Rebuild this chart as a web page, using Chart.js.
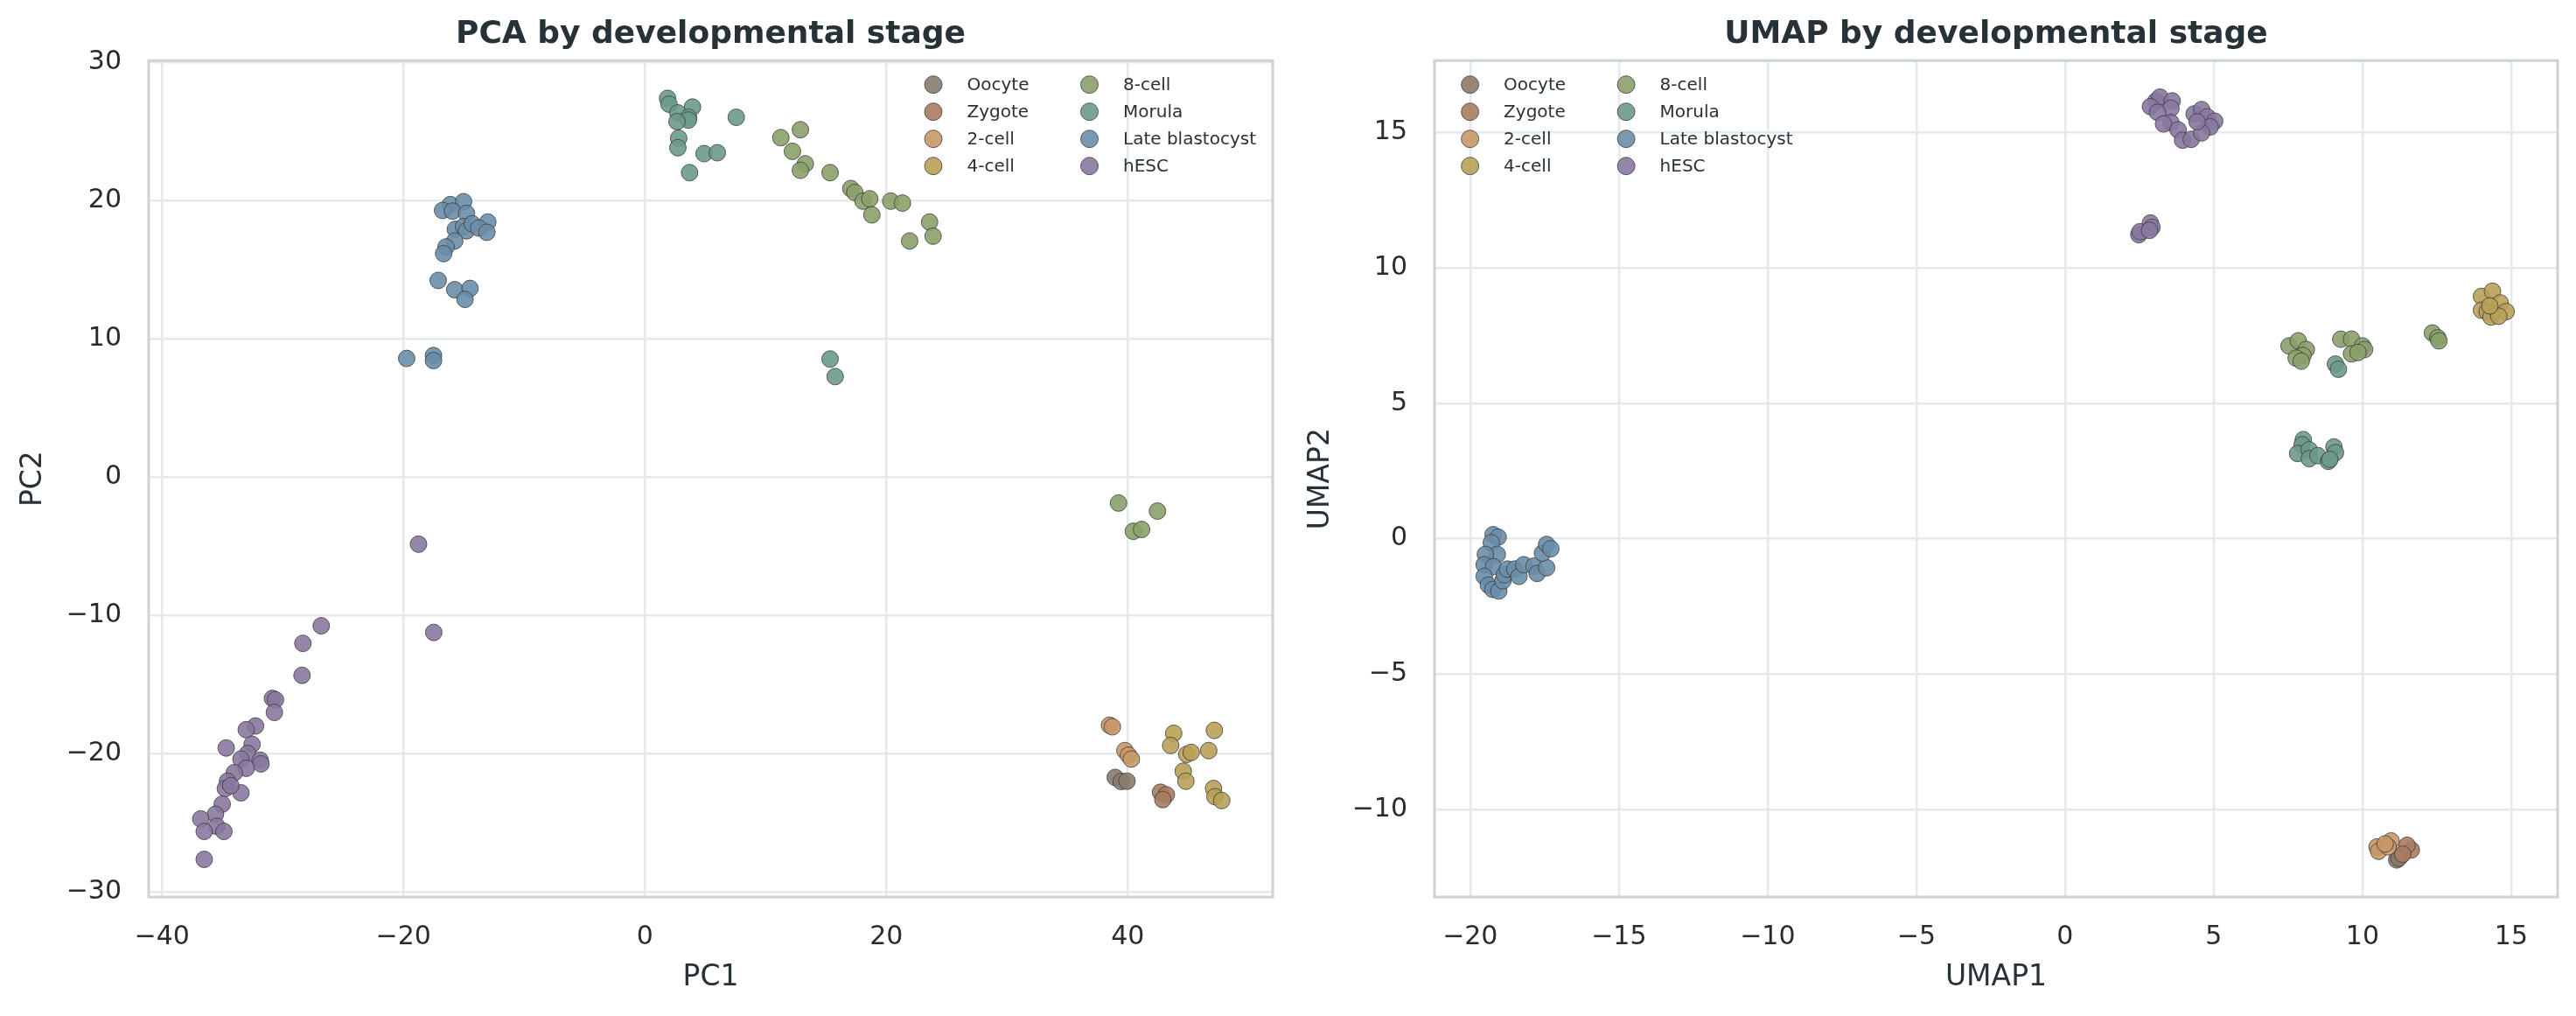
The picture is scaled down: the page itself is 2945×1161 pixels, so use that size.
<!DOCTYPE html>
<html>
<head>
<meta charset="utf-8">
<script src="https://cdn.jsdelivr.net/npm/chart.js@4.4.0/dist/chart.umd.min.js"></script>
<style>
  html, body { margin: 0; padding: 0; background: #fff; overflow: hidden; }
  #pca { position: absolute; left: 0; top: 0; }
  #umap { position: absolute; left: 1472px; top: 0; }
</style>
</head>
<body>
<canvas id="pca" width="1472" height="1161"></canvas>
<canvas id="umap" width="1473" height="1161"></canvas>
<script>
// stage names, in plotting order
var stages = ['Oocyte', 'Zygote', '2-cell', '4-cell', '8-cell', 'Morula', 'Late blastocyst', 'hESC'];
var stageColors = ['#8a7b6c', '#a87c62', '#c89868', '#b8a157', '#8ba06a', '#6b9a8a', '#6a8da8', '#8a78a0'];

// PCA coordinates [PC1, PC2]
var pcaOocyte = [[38.96, -21.71], [39.45, -22.0], [39.93, -21.98]];
var pcaZygote = [[42.71, -22.78], [43.19, -22.96], [42.9, -23.31]];
var pca2cell = [[38.48, -17.94], [38.72, -18.05], [39.76, -19.77], [40.05, -20.1], [40.29, -20.38]];
var pca4cell = [[43.8, -18.52], [43.55, -19.4], [44.88, -20.04], [45.25, -19.9], [46.7, -19.77], [47.17, -18.31],
                [44.59, -21.26], [44.81, -21.98], [47.1, -22.51], [47.22, -23.1], [47.78, -23.38]];
var pca8cell = [[11.26, 24.53], [12.88, 25.1], [12.22, 23.54], [13.29, 22.64], [12.88, 22.17], [15.34, 22.0],
                [17.06, 20.85], [17.39, 20.57], [18.07, 19.94], [18.62, 20.11], [18.8, 18.95], [20.36, 19.94],
                [21.33, 19.8], [23.58, 18.43], [21.93, 17.06], [23.87, 17.41],
                [39.23, -1.88], [42.46, -2.46], [40.46, -3.92], [41.14, -3.79]];
var pcaMorula = [[1.88, 27.37], [2.0, 26.95], [3.94, 26.74], [2.73, 26.32], [3.62, 26.0], [3.6, 25.8], [2.66, 25.69],
                 [2.8, 24.49], [2.73, 23.8], [7.57, 26.0], [4.9, 23.37], [6.0, 23.44], [3.7, 22.0],
                 [15.34, 8.53], [15.76, 7.26]];
var pcaLateBlast = [[-16.11, 19.69], [-15.02, 19.9], [-16.76, 19.27], [-15.94, 19.22], [-14.78, 19.06], [-15.7, 17.9],
                    [-15.02, 18.1], [-14.78, 17.8], [-14.3, 18.3], [-13.01, 18.43], [-13.77, 18.0], [-13.09, 17.69],
                    [-15.75, 17.06], [-16.47, 16.63], [-16.67, 16.15], [-17.12, 14.21], [-15.75, 13.54],
                    [-14.49, 13.63], [-14.9, 12.84], [-19.73, 8.57], [-17.51, 8.78], [-17.51, 8.42]];
var pcaHesc = [[-18.75, -4.85], [-17.49, -11.23], [-26.81, -10.75], [-28.33, -12.02], [-28.4, -14.33],
               [-30.85, -16.0], [-30.6, -16.1], [-30.69, -17.01], [-32.25, -17.99], [-33.02, -18.26],
               [-32.54, -19.32], [-34.68, -19.58], [-32.9, -19.98], [-33.46, -20.38], [-31.87, -20.46],
               [-31.8, -20.73], [-33.02, -21.05], [-34.01, -21.37], [-34.57, -21.98], [-34.75, -22.51],
               [-33.46, -22.82], [-35.01, -23.64], [-35.57, -24.37], [-36.79, -24.71], [-35.46, -25.24],
               [-36.5, -25.61], [-34.87, -25.61], [-36.5, -27.63], [-34.3, -22.3]];

// UMAP coordinates [UMAP1, UMAP2]
var umapOocyte = [[11.15, -11.86], [11.3, -11.7], [11.22, -11.8]];
var umapZygote = [[11.64, -11.49], [11.5, -11.32], [11.35, -11.65]];
var umap2cell = [[10.49, -11.38], [10.54, -11.54], [10.96, -11.16], [10.86, -11.38], [10.76, -11.27]];
var umap4cell = [[14.0, 8.95], [14.37, 9.14], [14.63, 8.71], [14.0, 8.44], [14.19, 8.39], [14.83, 8.39],
                 [14.32, 8.19], [14.58, 8.22], [14.28, 8.6]];
var umap8cell = [[7.53, 7.12], [7.84, 7.31], [8.11, 6.99], [8.0, 6.77], [7.77, 6.67], [7.94, 6.56],
                 [9.27, 7.37], [9.63, 7.37], [10.0, 7.12], [10.07, 6.99], [9.63, 6.83], [9.85, 6.88],
                 [12.35, 7.6], [12.53, 7.42], [12.57, 7.31]];
var umapMorula = [[9.09, 6.45], [9.19, 6.26], [8.01, 3.66], [7.97, 3.47], [7.82, 3.15], [8.21, 3.28],
                  [8.21, 2.96], [8.5, 3.07], [9.04, 3.39], [9.09, 3.18], [8.85, 2.86], [8.9, 2.93]];
var umapLateBlast = [[-19.23, 0.15], [-19.06, 0.06], [-19.29, -0.15], [-19.09, -0.58], [-19.49, -0.58],
                     [-19.53, -0.96], [-19.22, -1.03], [-19.53, -1.39], [-19.39, -1.71], [-19.24, -1.87],
                     [-19.04, -1.93], [-18.9, -1.55], [-18.85, -1.33], [-18.75, -1.12], [-18.5, -1.12],
                     [-18.36, -1.39], [-18.2, -0.96], [-17.86, -1.01], [-17.75, -1.28], [-17.43, -1.07],
                     [-17.57, -0.53], [-17.43, -0.21], [-17.29, -0.37]];
var umapHesc = [[3.06, 16.17], [3.19, 16.31], [2.87, 15.96], [3.6, 16.17], [3.56, 15.9], [3.11, 15.75],
                [3.56, 15.37], [3.31, 15.32], [3.8, 15.1], [3.95, 14.72], [4.24, 14.75], [4.34, 15.69],
                [4.59, 15.85], [4.78, 15.58], [5.03, 15.42], [4.88, 15.21], [4.59, 14.99], [4.44, 15.4],
                [2.48, 11.23], [2.52, 11.34], [2.87, 11.66], [2.92, 11.5], [2.84, 11.39]];

// axis limits and tick steps
var pcaXRange = [-41.1, 52.0], pcaYRange = [-30.35, 30.1];
var umapXRange = [-21.2, 16.56], umapYRange = [-13.23, 17.66];
var pcaXStep = 20, pcaYStep = 10, umapXStep = 5, umapYStep = 5;

var pcaSets = [pcaOocyte, pcaZygote, pca2cell, pca4cell, pca8cell, pcaMorula, pcaLateBlast, pcaHesc];
var umapSets = [umapOocyte, umapZygote, umap2cell, umap4cell, umap8cell, umapMorula, umapLateBlast, umapHesc];

function withAlpha(hex, a) {
  var n = parseInt(hex.slice(1), 16);
  return 'rgba(' + (n >> 16) + ',' + ((n >> 8) & 255) + ',' + (n & 255) + ',' + a + ')';
}

function minusTick(v) {
  return v < 0 ? '\u2212' + Math.abs(v) : '' + v;
}

// box round the plot, like matplotlib spines
var framePlugin = {
  id: 'frame',
  beforeDatasetsDraw: function (chart) {
    var a = chart.chartArea, c = chart.ctx;
    c.save();
    c.strokeStyle = '#cbd2d8';
    c.lineWidth = 3;
    c.strokeRect(a.left, a.top, a.right - a.left, a.bottom - a.top);
    c.restore();
  }
};

// two-column legend inside the plot
var stageLegend = {
  id: 'stageLegend',
  afterDatasetsDraw: function (chart, args, opts) {
    var a = chart.chartArea, c = chart.ctx;
    var colStep = 178.5, textGap = 38.5, rowStep = 31, r = 10;
    c.save();
    c.font = '20px "DejaVu Sans"';
    var w2 = 0;
    for (var k = 4; k < 8; k++) w2 = Math.max(w2, c.measureText(stages[k]).width);
    var x0 = opts.side === 'right' ? a.right - 19 - (colStep + textGap + w2) : a.left + 40.6;
    var y0 = a.top + 27.5;
    c.textBaseline = 'middle';
    c.textAlign = 'left';
    for (var i = 0; i < stages.length; i++) {
      var col = Math.floor(i / 4), row = i % 4;
      var cx = x0 + col * colStep, cy = y0 + row * rowStep;
      c.beginPath();
      c.arc(cx, cy, r, 0, Math.PI * 2);
      c.fillStyle = withAlpha(stageColors[i], 0.9);
      c.fill();
      c.lineWidth = 1;
      c.strokeStyle = 'rgba(60,60,60,0.8)';
      c.stroke();
      c.fillStyle = '#263238';
      c.fillText(stages[i], cx + textGap, cy + 1);
    }
    c.restore();
  }
};

function makeChart(id, title, sets, xr, yr, xs, ys, xLabel, yLabel, legendSide, padRight) {
  var datasets = sets.map(function (pts, i) {
    return {
      label: stages[i],
      data: pts.map(function (p) { return { x: p[0], y: p[1] }; }),
      backgroundColor: withAlpha(stageColors[i], 0.9),
      borderColor: 'rgba(60,60,60,0.8)',
      borderWidth: 1,
      pointRadius: 9.5,
      pointHoverRadius: 9.5,
      order: sets.length - i
    };
  });
  var tickFont = { family: 'DejaVu Sans', size: 30 };
  var labelFont = { family: 'DejaVu Sans', size: 33 };
  return new Chart(document.getElementById(id).getContext('2d'), {
    type: 'scatter',
    data: { datasets: datasets },
    plugins: [framePlugin, stageLegend],
    options: {
      responsive: false,
      animation: false,
      events: [],
      layout: { padding: { left: 0, right: padRight, top: 0, bottom: 0 } },
      scales: {
        x: {
          type: 'linear',
          min: xr[0], max: xr[1],
          afterFit: function (s) { s.height = 136; },
          border: { display: false },
          grid: { color: '#e6e9ec', lineWidth: 2.5, drawTicks: false },
          ticks: { stepSize: xs, includeBounds: false, padding: 28, color: '#2b2b2b', font: tickFont, maxRotation: 0, callback: minusTick },
          title: { display: true, text: xLabel, color: '#263238', font: labelFont, padding: { top: 0, bottom: 24 } }
        },
        y: {
          type: 'linear',
          min: yr[0], max: yr[1],
          afterFit: function (s) { s.width = id === 'pca' ? 170 : 168; },
          border: { display: false },
          grid: { color: '#e6e9ec', lineWidth: 2.5, drawTicks: false },
          ticks: { stepSize: ys, includeBounds: false, padding: 31, color: '#2b2b2b', font: tickFont, callback: minusTick },
          title: { display: true, text: yLabel, color: '#263238', font: labelFont, padding: { top: 19, bottom: 0 } }
        }
      },
      plugins: {
        legend: { display: false },
        tooltip: { enabled: false },
        stageLegend: { side: legendSide },
        title: {
          display: true,
          text: title,
          fullSize: false,
          color: '#263238',
          font: { family: 'DejaVu Sans', size: 36, weight: 'bold' },
          padding: { top: 18, bottom: 8 }
        }
      }
    }
  });
}

makeChart('pca', 'PCA by developmental stage', pcaSets, pcaXRange, pcaYRange, pcaXStep, pcaYStep, 'PC1', 'PC2', 'right', 17);
makeChart('umap', 'UMAP by developmental stage', umapSets, umapXRange, umapYRange, umapXStep, umapYStep, 'UMAP1', 'UMAP2', 'left', 21);
</script>
</body>
</html>
